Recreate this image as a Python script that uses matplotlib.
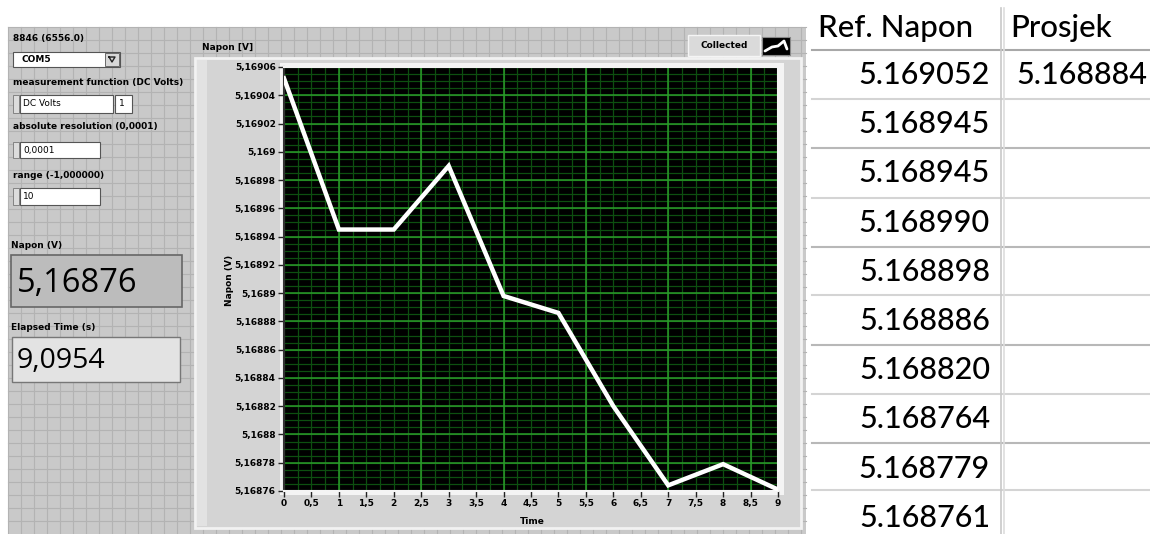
import numpy as np
import matplotlib
matplotlib.use("Agg")
import matplotlib.pyplot as plt
from matplotlib.patches import Rectangle
from matplotlib.ticker import FuncFormatter, MultipleLocator

# ====================== data ======================
time_s = [0, 1, 2, 3, 4, 5, 6, 7, 8, 9]
ref_napon = [5.169052, 5.168945, 5.168945, 5.168990, 5.168898,
             5.168886, 5.168820, 5.168764, 5.168779, 5.168761]
prosjek = 5.168884
napon_display = "5,16876"
elapsed_display = "9,0954"
y_min, y_max = 5.16876, 5.16906

W, H = 1150, 534
fig = plt.figure(figsize=(W / 100, H / 100), dpi=100)
fig.patch.set_facecolor("white")

# background axes in pixel coordinates (y down)
bg = fig.add_axes([0, 0, 1, 1])
bg.set_xlim(0, W)
bg.set_ylim(H, 0)
bg.axis("off")

def rect(x0, y0, x1, y1, fc, ec="none", lw=1.0, z=1):
    bg.add_patch(Rectangle((x0, y0), x1 - x0, y1 - y0, facecolor=fc,
                           edgecolor=ec, linewidth=lw, zorder=z))

def txt(x, y, s, size=7, weight="bold", ha="left", va="center", color="black",
        family="DejaVu Sans", z=5, **kw):
    bg.text(x, y, s, fontsize=size, fontweight=weight, ha=ha, va=va,
            color=color, family=family, zorder=z, **kw)

# ---------------- LabVIEW front panel ----------------
rect(8, 27, 806, H, "#c9c9c9", z=0)
for gx in np.arange(8, 806, 13):
    bg.plot([gx, gx], [27, H], color="#b3b3b3", lw=0.8, zorder=0.5)
for gy in np.arange(27, H, 13):
    bg.plot([8, 806], [gy, gy], color="#b3b3b3", lw=0.8, zorder=0.5)

# left controls
txt(13, 38, "8846 (6556.0)", size=6.5)
rect(13, 52, 120, 67, "white", ec="#555555", lw=0.8, z=2)
rect(105, 53, 119, 66, "#d8d8d8", ec="#555555", lw=0.6, z=3)
bg.plot([109, 115, 112, 109], [57, 57, 62, 57], color="#222222", lw=1, zorder=4)
txt(22, 59.5, "COM5", size=6.5)
txt(13, 82, "measurement function (DC Volts)", size=6.5)
for (x0, y0, x1, y1, s) in [(20, 95, 113, 113, "DC Volts"),
                            (20, 142, 100, 158, "0,0001"),
                            (20, 188, 100, 205, "10")]:
    rect(13, y0, 19, y1, "#dcdcdc", ec="#777777", lw=0.6, z=2)
    rect(x0, y0, x1, y1, "white", ec="#555555", lw=0.8, z=2)
    txt(x0 + 3, (y0 + y1) / 2, s, size=6.5, weight="normal")
rect(115, 95, 132, 113, "white", ec="#555555", lw=0.8, z=2)
txt(119, 104, "1", size=6.5, weight="normal")
txt(13, 127, "absolute resolution (0,0001)", size=6.5)
txt(13, 175, "range (-1,000000)", size=6.5)

txt(11, 245, "Napon (V)", size=6.5)
rect(11, 255, 182, 307, "#bcbcbc", ec="#666666", lw=1.2, z=2)
txt(17, 283, napon_display, size=23.5, weight="normal", family="Open Sans")
txt(11, 328, "Elapsed Time (s)", size=6.5)
rect(12, 337, 180, 382, "#e3e3e3", ec="#777777", lw=1.0, z=2)
txt(17, 361, elapsed_display, size=20.5, weight="normal", family="Open Sans")

# graph frame
rect(195, 58, 801, 528, "#d4d4d4", ec="#f2f2f2", lw=2.0, z=1)
rect(197, 60, 207, 526, "#e2e2e2", z=1.5)
txt(202, 47, "Napon [V]", size=6.5)
rect(280, 63, 784, 495, "#f4f4f4", z=1.6)
txt(230, 280, "Napon (V)", size=6.5, ha="center", rotation=90)
txt(532, 521, "Time", size=6.5, ha="center")

# "Collected" legend
rect(688, 35, 760, 56, "#dadada", ec="#f5f5f5", lw=1.0, z=2)
txt(724, 45.5, "Collected", size=6.5, ha="center")
rect(762, 37, 790, 55, "black", ec="#888888", lw=0.8, z=2)
bg.plot([765, 772, 778, 784, 787], [51, 47, 46, 41, 49], color="white",
        lw=2, zorder=3, solid_capstyle="round")

# ---------------- chart ----------------
px_l, px_r, px_t, px_b = 284, 778, 67, 491
ax = fig.add_axes([px_l / W, (H - px_b) / H, (px_r - px_l) / W, (px_b - px_t) / H])
ax.set_facecolor("black")
ax.plot(time_s, ref_napon, color="white", lw=3.2, zorder=5, solid_joinstyle="miter")
ax.set_xlim(0, 9)
ax.set_ylim(y_min, y_max)

def comma_fmt(v, pos):
    s = f"{v:.5f}".rstrip("0").rstrip(".")
    return s.replace(".", ",")

ax.yaxis.set_major_locator(MultipleLocator(0.00002))
ax.yaxis.set_major_formatter(FuncFormatter(comma_fmt))
ax.xaxis.set_major_locator(MultipleLocator(0.5))
ax.xaxis.set_major_formatter(FuncFormatter(comma_fmt))
ax.tick_params(axis="both", labelsize=6.5, length=4, width=1, color="#222222",
               pad=2)
for lab in ax.get_xticklabels() + ax.get_yticklabels():
    lab.set_fontweight("bold")

# green grid
for gx in np.arange(0, 9.01, 0.25):
    ax.axvline(gx, color="#0d4f10", lw=0.9, zorder=1)
for gy in np.arange(y_min, y_max + 1e-9, 0.000005):
    ax.axhline(gy, color="#0d4f10", lw=0.9, zorder=1)
for gx in np.arange(1, 9.01, 1.5):
    ax.axvline(gx, color="#2a9c2a", lw=1.1, zorder=2)
for gy in np.arange(y_min, y_max + 1e-9, 0.00002):
    ax.axhline(gy, color="#2a9c2a", lw=1.1, zorder=2)

for sp in ax.spines.values():
    sp.set_color("#f4f4f4")
    sp.set_linewidth(1.5)
ax.spines["left"].set_color("#333333")

# ---------------- spreadsheet table ----------------
row_lines = [50, 99, 148, 198, 247, 295, 345, 394, 443, 490]
bg.plot([812, W], [row_lines[0], row_lines[0]], color="#a8a8a8", lw=1.5, zorder=1)
for i, ly in enumerate(row_lines[1:]):
    c = "#b8b8b8" if i % 2 == 1 else "#d4d4d4"
    bg.plot([812, W], [ly, ly], color=c, lw=1.5, zorder=1)
bg.plot([1001, 1001], [8, H], color="#c8c8c8", lw=1.2, zorder=1)
bg.plot([1004, 1004], [8, H], color="#dddddd", lw=1.2, zorder=1)

tfam = ["Lato", "DejaVu Sans"]
txt(818, 28, "Ref. Napon", size=22.5, weight="medium", family=tfam)
txt(1010, 28, "Prosjek", size=22.5, weight="medium", family=tfam)
for i, v in enumerate(ref_napon):
    cy = 75 + i * 49.2
    txt(990, cy, f"{v:.6f}", size=22, weight="medium", ha="right", family=tfam)
txt(1016, 75, f"{prosjek:.6f}", size=22, weight="medium", family=tfam)

fig.savefig("out.png", dpi=100, facecolor="white")
